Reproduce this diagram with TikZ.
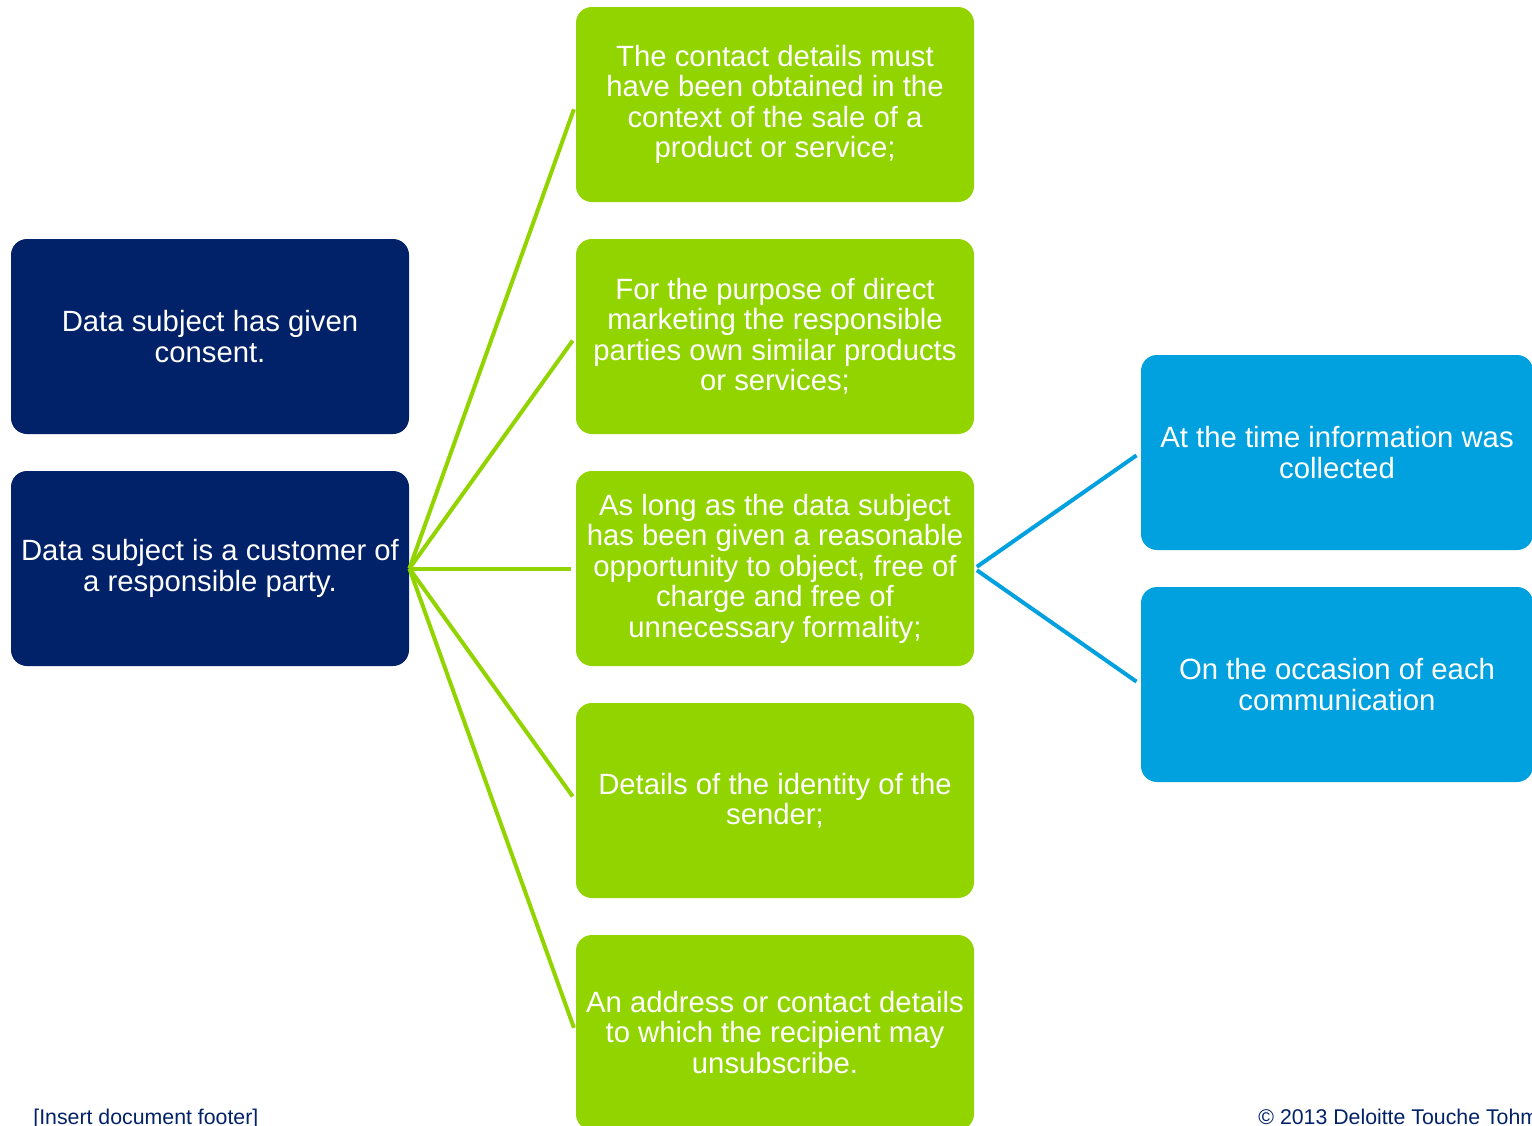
\documentclass[tikz,border=0pt]{standalone}
\usepackage{fontspec}
\setmainfont{Liberation Sans}
\usepackage{tikz}
\definecolor{dtnavy}{HTML}{012169}
\definecolor{dtgreen}{HTML}{92D400}
\definecolor{dtblue}{HTML}{00A1DE}
\newcommand{\cardfont}{\fontsize{14.65}{15.25}\selectfont}
\newcommand{\footfont}{\fontsize{10.65}{12}\selectfont}

\begin{document}
\begin{tikzpicture}[x=.5pt,y=-.5pt,
  card/.style={rounded corners=8pt,text=white,align=center,inner sep=2pt,
    minimum width=199pt,minimum height=97.5pt,font=\cardfont},
  navycard/.style={card,fill=dtnavy},
  greencard/.style={card,fill=dtgreen},
  bluecard/.style={card,fill=dtblue,minimum width=196pt},
  greenline/.style={draw=dtgreen,line width=2pt,shorten >=2.5pt},
  blueline/.style={draw=dtblue,line width=2pt,shorten <=1.5pt,shorten >=2.5pt},
  foottext/.style={anchor=base west,inner sep=0pt,text=dtnavy,font=\footfont}]
\useasboundingbox (0,0) rectangle (1532,1125);
%left column
\node[navycard] (consent) at (210,336.5) {Data subject has given\\consent.};
\node[navycard] (customer) at (210,568.5) {Data subject is a customer of\\a responsible party.};
%conditions
\node[greencard] (sale) at (775,104.5) {The contact details must\\have been obtained in the\\context of the sale of a\\product or service;};
\node[greencard] (similar) at (775,336.5) {For the purpose of direct\\marketing the responsible\\parties own similar products\\or services;};
\node[greencard] (optout) at (775,568.5) {As long as the data subject\\has been given a reasonable\\opportunity to object, free of\\charge and free of\\unnecessary formality;};
\node[greencard] (sender) at (775,800.5) {Details of the identity of the\\sender;};
\node[greencard] (unsub) at (775,1032.5) {An address or contact details\\to which the recipient may\\unsubscribe.};
%when to offer opt-out
\node[bluecard] (collected) at (1337,452.5) {At the time information was\\collected};
\node[bluecard] (eachcomm) at (1337,684.5) {On the occasion of each\\communication};
\foreach \c in {sale,similar,optout,sender,unsub}
  \draw[greenline] (customer.east) -- (\c.west);
\draw[blueline] (optout.east) -- (collected.west);
\draw[blueline] (optout.east) -- (eachcomm.west);
%footer
\node[foottext] (footer) at (33,1124) {[Insert document footer]};
\node[foottext] (copyright) at (1258,1124) {© 2013 Deloitte Touche Tohmatsu Limited};
\end{tikzpicture}
\end{document}
